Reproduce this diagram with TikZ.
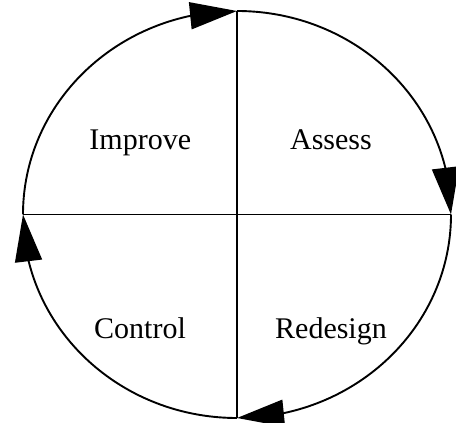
\documentclass[tikz,border=0pt]{standalone}
\usepackage{fontspec}
\setmainfont{Liberation Serif}
\usetikzlibrary{arrows.meta,bending}

\tikzset{
    cycleline/.style={line width=1.9pt},
    cyclearrow/.style={cycleline, -{Triangle[length=47pt,width=27pt,flex]}},
    phase/.style={font=\fontsize{30}{36}\selectfont, anchor=base},
}

\begin{document}
\begin{tikzpicture}[x=1pt,y=1pt]
    \useasboundingbox (0,0) rectangle (456,423);
    \coordinate (mid) at (237,208.5);
    \coordinate (top) at (237,412);
    \coordinate (right) at (451,208.5);
    \coordinate (bottom) at (237,5);
    \coordinate (left) at (23,208.5);
    % the cycle, one quarter at a time
    \draw [cyclearrow] (left) arc[start angle=180, end angle=90, x radius=214pt, y radius=203.5pt];
    \draw [cyclearrow] (top) arc[start angle=90, end angle=0, x radius=214pt, y radius=203.5pt];
    \draw [cyclearrow] (right) arc[start angle=0, end angle=-90, x radius=214pt, y radius=203.5pt];
    \draw [cyclearrow] (bottom) arc[start angle=-90, end angle=-180, x radius=214pt, y radius=203.5pt];
    \draw [cycleline] (top) to (bottom);
    \draw [cycleline] (left) to (right);
    \node (improve) [phase] at (140.3,273.7) {Improve};
    \node (assess) [phase] at (331,273.7) {Assess};
    \node (control) [phase] at (140,84) {Control};
    \node (redesign) [phase] at (331,84) {Redesign};
\end{tikzpicture}
\end{document}
